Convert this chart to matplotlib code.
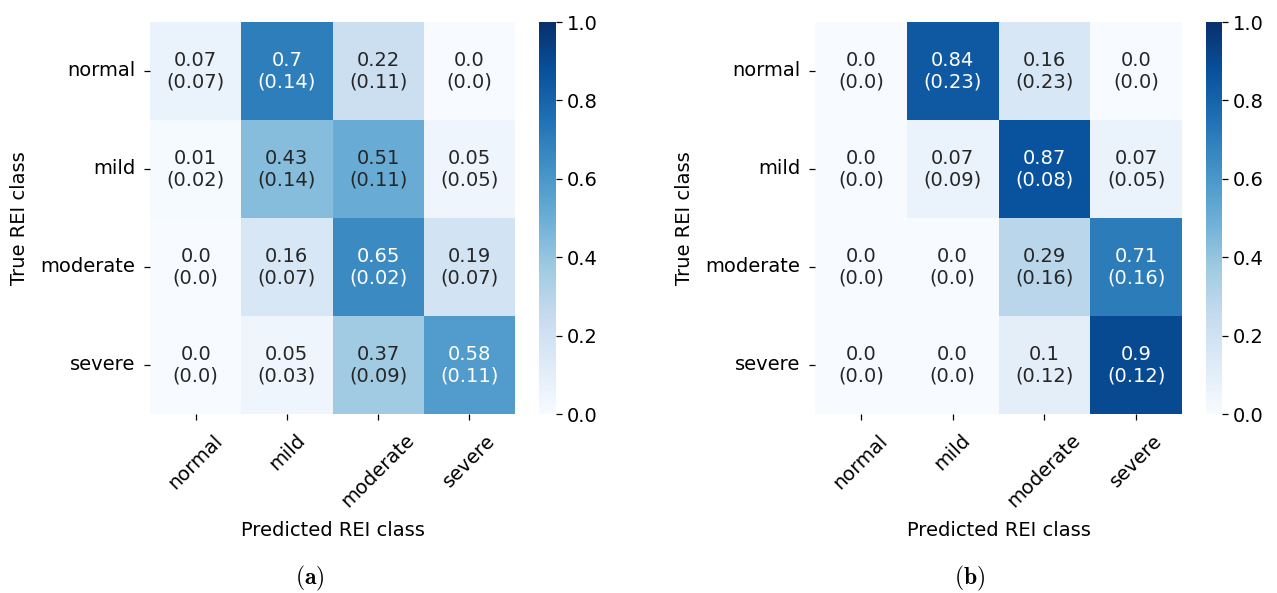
import numpy as np
import matplotlib
matplotlib.use("Agg")
import matplotlib.pyplot as plt
import seaborn as sns

classes = ["normal", "mild", "moderate", "severe"]

# panel (a): mean normalised confusion matrix and its standard deviation
mean_a = np.array([
    [0.07, 0.70, 0.22, 0.00],
    [0.01, 0.43, 0.51, 0.05],
    [0.00, 0.16, 0.65, 0.19],
    [0.00, 0.05, 0.37, 0.58],
])
std_a = np.array([
    [0.07, 0.14, 0.11, 0.00],
    [0.02, 0.14, 0.11, 0.05],
    [0.00, 0.07, 0.02, 0.07],
    [0.00, 0.03, 0.09, 0.11],
])

# panel (b)
mean_b = np.array([
    [0.00, 0.84, 0.16, 0.00],
    [0.00, 0.07, 0.87, 0.07],
    [0.00, 0.00, 0.29, 0.71],
    [0.00, 0.00, 0.10, 0.90],
])
std_b = np.array([
    [0.00, 0.23, 0.23, 0.00],
    [0.00, 0.09, 0.08, 0.05],
    [0.00, 0.00, 0.16, 0.16],
    [0.00, 0.00, 0.12, 0.12],
])

captions = ["a", "b"]

plt.rcParams["font.family"] = ["DejaVu Sans"]
plt.rcParams["mathtext.fontset"] = "cm"

W, H = 1277, 593
fig = plt.figure(figsize=(W / 100, H / 100), dpi=100)


def box(x0, y0, x1, y1):
    return [x0 / W, 1 - y1 / H, (x1 - x0) / W, (y1 - y0) / H]


def fmt(v):
    return f"{round(v, 2)}"


panels = [
    (mean_a, std_a, box(150, 22, 515, 414), box(539, 22, 556, 414), 310),
    (mean_b, std_b, box(815, 22, 1182, 414), box(1206, 22, 1222, 414), 970),
]

fs = 14
dark = "#262626"
for (mean, std, hbox, cbox, cx), cap in zip(panels, captions):
    ax = fig.add_axes(hbox)
    cax = fig.add_axes(cbox)
    labels = np.array([[f"{fmt(m)}\n({fmt(s)})" for m, s in zip(mr, sr)]
                       for mr, sr in zip(mean, std)])
    sns.heatmap(mean, ax=ax, cbar_ax=cax, cmap="Blues", vmin=0, vmax=1,
                annot=labels, fmt="", annot_kws={"fontsize": fs, "linespacing": 1.2},
                xticklabels=classes, yticklabels=classes)
    # light text on the darker cells
    for t, v in zip(ax.texts, mean.ravel()):
        t.set_color("white" if v >= 0.55 else dark)
    ax.set_xticklabels(classes, rotation=45, ha="center", fontsize=fs)
    ax.set_yticklabels(classes, rotation=0, fontsize=fs)
    ax.tick_params(axis="x", length=4, width=0.9, pad=8)
    ax.tick_params(axis="y", length=4, width=0.9, pad=6.5)
    ax.set_xlabel("Predicted REI class", fontsize=fs, labelpad=7)
    ax.set_ylabel("True REI class", fontsize=fs, labelpad=8)
    cax.set_yticks([0, 0.2, 0.4, 0.6, 0.8, 1.0])
    cax.tick_params(labelsize=fs, length=4, width=0.9)
    fig.text(cx / W, 1 - 578 / H, r"$(\mathbf{" + cap + r"})$",
             ha="center", va="center", fontsize=17)

fig.savefig("out.png", dpi=100)
